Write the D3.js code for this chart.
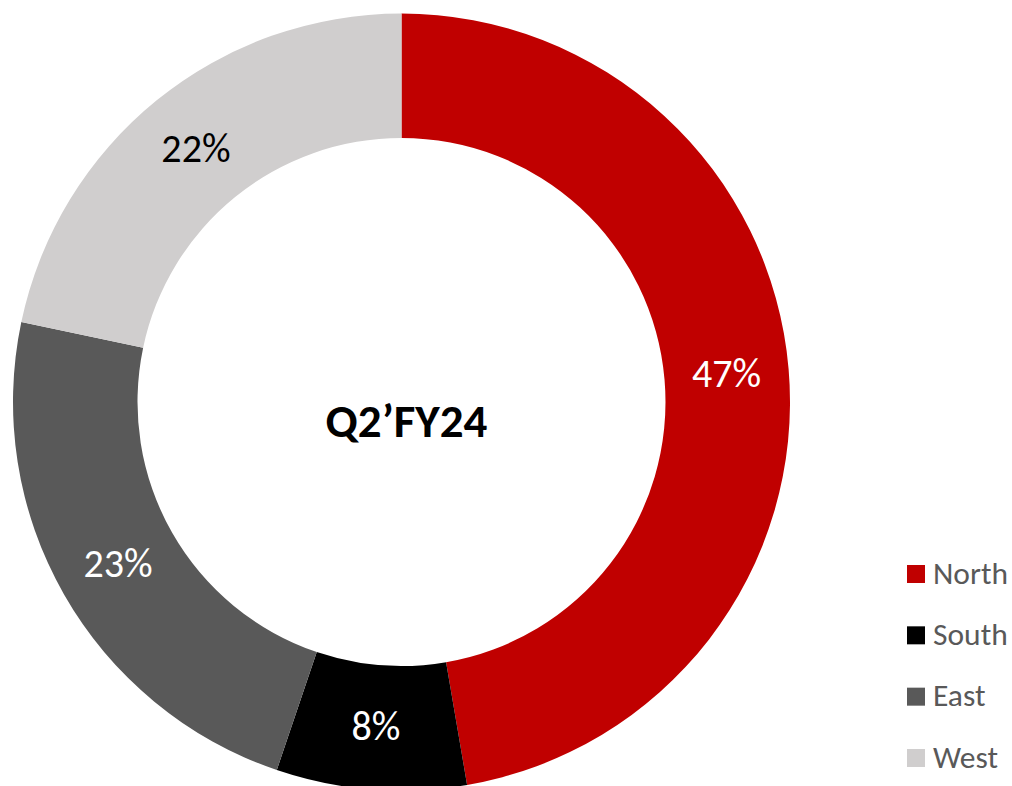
<!DOCTYPE html>
<html>
<head>
<meta charset="utf-8">
<script src="https://cdn.jsdelivr.net/npm/d3@7"></script>
<style>
  html, body { margin: 0; padding: 0; background: #fff; }
  svg { display: block; }
</style>
</head>
<body>
<div id="chart"></div>
<script>
// data
const regions = ['North', 'South', 'East', 'West'];
const shares = [47.3, 7.9, 23.1, 21.7];
const shareLabels = ['47%', '8%', '23%', '22%'];
const colors = ['#C00000', '#000000', '#595959', '#D0CECE'];
const labelColors = ['#ffffff', '#ffffff', '#ffffff', '#000000'];
const centerTitle = 'Q2\u2019FY24';

const W = 1012, H = 786;
const cx = 401.5, cy = 402;
const outerR = 388.5, innerR = 264;
const font = "Carlito, 'Open Sans', sans-serif";

const svg = d3.select('#chart').append('svg')
  .attr('width', W)
  .attr('height', H);

const g = svg.append('g').attr('transform', `translate(${cx},${cy})`);

const pie = d3.pie().sort(null).value(d => d.v);
const arc = d3.arc().innerRadius(innerR).outerRadius(outerR);

const data = regions.map((r, i) => ({ name: r, v: shares[i], i }));
const arcs = pie(data);

g.selectAll('path.slice')
  .data(arcs)
  .enter()
  .append('path')
  .attr('class', 'slice')
  .attr('d', arc)
  .attr('fill', d => colors[d.data.i]);

// percent labels
g.selectAll('text.pct')
  .data(arcs)
  .enter()
  .append('text')
  .attr('class', 'pct')
  .attr('x', d => arc.centroid(d)[0])
  .attr('y', d => arc.centroid(d)[1] + 13)
  .attr('text-anchor', 'middle')
  .attr('font-family', font)
  .attr('font-size', '40px')
  .attr('fill', d => labelColors[d.data.i])
  .text(d => shareLabels[d.data.i]);

// center title
g.append('text')
  .attr('x', 5)
  .attr('y', 35)
  .attr('text-anchor', 'middle')
  .attr('font-family', font)
  .attr('font-weight', 'bold')
  .attr('font-size', '47px')
  .attr('fill', '#000')
  .text(centerTitle);

// legend
const ly = d3.scalePoint()
  .domain(regions)
  .range([565, 749]);

const legend = svg.append('g');
const item = legend.selectAll('g.item')
  .data(regions)
  .enter()
  .append('g')
  .attr('class', 'item')
  .attr('transform', d => `translate(907,${ly(d)})`);

item.append('rect')
  .attr('width', 18)
  .attr('height', 18)
  .attr('fill', (d, i) => colors[i]);

item.append('text')
  .attr('x', 26)
  .attr('y', 18.5)
  .attr('font-family', font)
  .attr('font-size', '31.5px')
  .attr('fill', '#595959')
  .text(d => d);
</script>
</body>
</html>
